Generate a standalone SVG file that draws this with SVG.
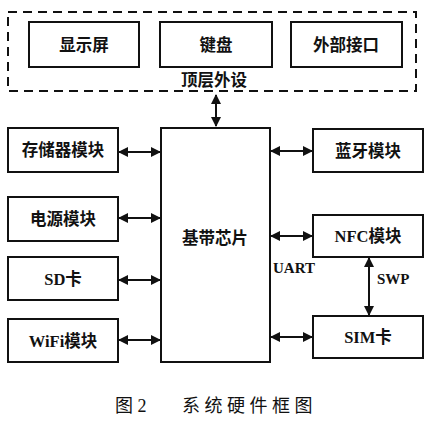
<svg xmlns="http://www.w3.org/2000/svg" width="432" height="425" viewBox="0 0 432 425">
<style>
.box{fill:#fff;stroke:#111;stroke-width:2}
.lbl{font-family:"Liberation Serif","Noto Sans CJK SC",serif;font-weight:bold;font-size:16.5px;fill:#111;text-anchor:middle;dominant-baseline:central}
.con{stroke:#111;stroke-width:2;fill:none;marker-start:url(#ah);marker-end:url(#ah)}
.cap{font-family:"Liberation Serif","Noto Sans CJK SC",serif;font-size:18px;fill:#111}
</style>
<defs>
<marker id="ah" viewBox="0 0 10 10" refX="9" refY="5" markerWidth="5" markerHeight="5" orient="auto-start-reverse" markerUnits="strokeWidth">
<path d="M0,0 L10,5 L0,10 z" fill="#111"/>
</marker>
</defs>
<rect width="432" height="425" fill="#fff"/>
<g id="top">
<rect x="8" y="12" width="408" height="79" fill="none" stroke="#111" stroke-width="2" stroke-dasharray="9,6"/>
<text class="lbl" x="214" y="80">顶层外设</text>
</g>
<g id="display"><rect class="box" x="29" y="22" width="110" height="45"/><text class="lbl" x="84" y="45">显示屏</text></g>
<g id="keyboard"><rect class="box" x="160" y="22" width="112" height="45"/><text class="lbl" x="216" y="45">键盘</text></g>
<g id="ext"><rect class="box" x="291" y="22" width="111" height="45"/><text class="lbl" x="346" y="45">外部接口</text></g>
<g id="baseband"><rect class="box" x="161" y="128" width="109" height="234"/><text class="lbl" x="215" y="238">基带芯片</text></g>
<g id="storage"><rect class="box" x="8" y="128" width="110" height="44"/><text class="lbl" x="63" y="150">存储器模块</text></g>
<g id="power"><rect class="box" x="8" y="197" width="110" height="44"/><text class="lbl" x="63" y="219">电源模块</text></g>
<g id="sd"><rect class="box" x="8" y="257" width="110" height="43"/><text class="lbl" x="63" y="279">SD卡</text></g>
<g id="wifi"><rect class="box" x="8" y="319" width="110" height="43"/><text class="lbl" x="63" y="341">WiFi模块</text></g>
<g id="bt"><rect class="box" x="313" y="129" width="110" height="43"/><text class="lbl" x="368" y="151">蓝牙模块</text></g>
<g id="nfc"><rect class="box" x="313" y="215" width="110" height="42"/><text class="lbl" x="368" y="236">NFC模块</text></g>
<g id="sim"><rect class="box" x="313" y="316" width="110" height="42"/><text class="lbl" x="368" y="337">SIM卡</text></g>
<g id="connectors">
<line x1="216" y1="126" x2="216" y2="95" stroke="#111" stroke-width="2" marker-end="url(#ah)" marker-start="url(#ah)"/>
<line class="con" x1="119" y1="152" x2="160" y2="152"/>
<line class="con" x1="119" y1="218" x2="160" y2="218"/>
<line class="con" x1="119" y1="280" x2="160" y2="280"/>
<line class="con" x1="119" y1="340" x2="160" y2="340"/>
<line class="con" x1="271" y1="151" x2="312" y2="151"/>
<line class="con" x1="271" y1="236" x2="312" y2="236"/>
<line class="con" x1="271" y1="337" x2="312" y2="337"/>
<line class="con" x1="369" y1="258" x2="369" y2="315"/>
<text class="lbl" x="273" y="268" style="text-anchor:start;font-size:15px">UART</text>
<text class="lbl" x="377" y="279" style="text-anchor:start;font-size:15px">SWP</text>
</g>
<g id="caption">
<text class="cap" x="115" y="412">图 2</text>
<text class="cap" x="182" y="412" letter-spacing="4.5">系统硬件框图</text>
</g>
</svg>
